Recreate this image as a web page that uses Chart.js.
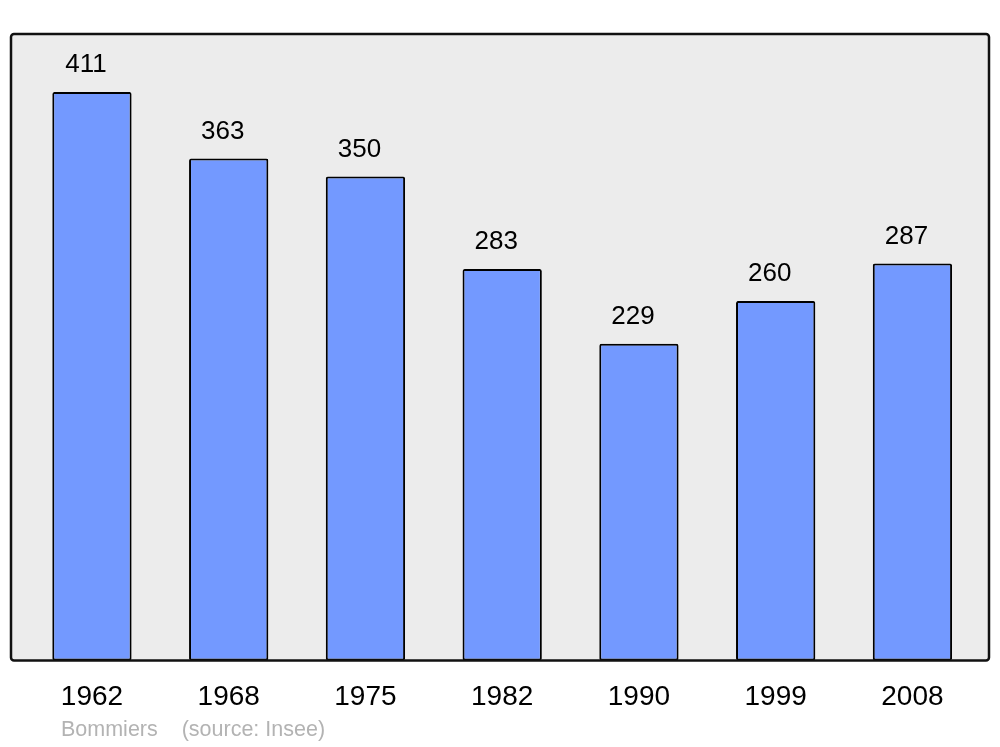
<!DOCTYPE html>
<html>
<head>
<meta charset="utf-8">
<script src="https://cdn.jsdelivr.net/npm/chart.js@4/dist/chart.umd.min.js"></script>
<style>
    html, body { margin: 0; padding: 0; background: #ffffff; }
    #wrap { width: 1000px; height: 747px; }
</style>
</head>
<body>
<div id="wrap"><canvas id="popChart" width="1000" height="747"></canvas></div>
<script>
const years = ['1962', '1968', '1975', '1982', '1990', '1999', '2008'];
const population = [411, 363, 350, 283, 229, 260, 287];
const footerText = 'Bommiers    (source: Insee)';

// Grey box with rounded border behind the bars
const boxPlugin = {
    id: 'box',
    beforeDatasetsDraw(chart) {
        const { ctx, chartArea: a } = chart;
        ctx.save();
        ctx.beginPath();
        ctx.roundRect(a.left, a.top, a.right - a.left, a.bottom - a.top, 3);
        ctx.fillStyle = '#ececec';
        ctx.fill();
        ctx.restore();
    },
    afterDatasetsDraw(chart) {
        const { ctx, chartArea: a } = chart;
        ctx.save();
        ctx.beginPath();
        ctx.roundRect(a.left, a.top, a.right - a.left, a.bottom - a.top, 3);
        ctx.lineWidth = 2.5;
        ctx.strokeStyle = '#111111';
        ctx.stroke();
        ctx.restore();
    }
};

// Values above the bars + footer line
const labelPlugin = {
    id: 'labels',
    afterDraw(chart) {
        const { ctx, chartArea: a } = chart;
        const meta = chart.getDatasetMeta(0);
        ctx.save();
        ctx.font = '26px "Liberation Sans", Arial, sans-serif';
        ctx.fillStyle = '#000000';
        ctx.textAlign = 'center';
        ctx.textBaseline = 'middle';
        meta.data.forEach((bar, i) => {
            ctx.fillText(String(population[i]), bar.x - 6, bar.y - 27);
        });
        ctx.font = '21.5px "Liberation Sans", Arial, sans-serif';
        ctx.fillStyle = '#b3b3b3';
        ctx.textAlign = 'left';
        ctx.fillText(footerText, a.left + 50, a.bottom + 70);
        ctx.restore();
    }
};

const ctx = document.getElementById('popChart').getContext('2d');
new Chart(ctx, {
    type: 'bar',
    data: {
        datasets: [{
            data: population.map((v, i) => ({ x: i, y: v })),
            backgroundColor: '#7399ff',
            borderColor: '#000000',
            borderWidth: 2,
            borderRadius: 2,
            borderSkipped: false,
            barPercentage: 0.58,
            categoryPercentage: 1
        }]
    },
    options: {
        responsive: false,
        animation: false,
        layout: { padding: { left: 11, right: 11, top: 34, bottom: 13 } },
        scales: {
            x: {
                type: 'linear',
                offset: false,
                min: -0.592,
                max: 6.56,
                grid: { display: false, drawTicks: false },
                border: { display: false },
                ticks: {
                    stepSize: 1,
                    includeBounds: false,
                    autoSkip: false,
                    maxRotation: 0,
                    padding: 20,
                    color: '#000000',
                    font: { family: '"Liberation Sans", Arial, sans-serif', size: 28 },
                    callback: v => years[v] !== undefined ? years[v] : ''
                }
            },
            y: {
                display: false,
                min: 0,
                max: 453
            }
        },
        plugins: {
            legend: { display: false },
            tooltip: { enabled: false }
        }
    },
    plugins: [boxPlugin, labelPlugin]
});
</script>
</body>
</html>
